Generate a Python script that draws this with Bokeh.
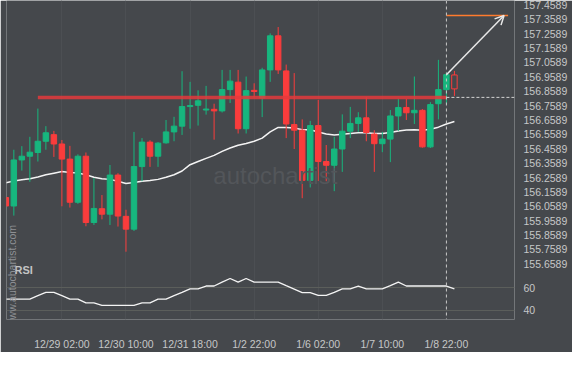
import math
from bokeh.plotting import figure
from bokeh.models import (ColumnDataSource, Range1d, FixedTicker, Span, Label,
                          Arrow, OpenHead)
from bokeh.embed import file_html
from bokeh.resources import INLINE

# ---------------- data ----------------
opens = [156.120, 156.061, 156.381, 156.407, 156.433, 156.511, 156.557, 156.492, 156.387, 156.087,
         156.407, 155.946, 156.042, 156.004, 156.276, 155.989, 155.900, 156.335, 156.505, 156.407,
         156.500, 156.576, 156.616, 156.752, 156.761, 156.728, 156.733, 156.722, 156.870, 156.922,
         156.598, 156.865, 156.811, 157.007, 157.244, 157.000, 156.627, 156.588, 156.239, 156.620,
         156.370, 156.344, 156.457, 156.581, 156.635, 156.674, 156.561, 156.494, 156.526, 156.687,
         156.746, 156.709, 156.726, 156.472, 156.772, 156.870, 156.972]
highs = [156.125, 156.452, 156.477, 156.542, 156.738, 156.616, 156.583, 156.520, 156.479, 156.420,
         156.433, 156.255, 156.137, 156.346, 156.289, 156.035, 156.576, 156.533, 156.518, 156.505,
         156.659, 156.681, 156.998, 156.924, 156.865, 156.896, 156.772, 157.007, 157.007, 157.007,
         156.961, 156.914, 157.022, 157.261, 157.305, 157.044, 156.985, 156.663, 156.653, 156.798,
         156.485, 156.542, 156.698, 156.750, 156.713, 156.816, 156.588, 156.576, 156.728, 156.805,
         156.805, 156.961, 156.735, 156.783, 157.077, 156.989, 157.000]
lows = [156.055, 155.994, 156.307, 156.229, 156.370, 156.452, 156.402, 156.059, 156.050, 156.076,
        155.920, 155.929, 155.968, 155.929, 155.918, 155.743, 155.887, 156.233, 156.333, 156.333,
        156.494, 156.511, 156.555, 156.598, 156.620, 156.696, 156.522, 156.711, 156.777, 156.565,
        156.565, 156.816, 156.679, 156.924, 156.979, 156.533, 156.457, 156.115, 156.190, 156.235,
        156.233, 156.164, 156.298, 156.533, 156.576, 156.511, 156.298, 156.435, 156.366, 156.583,
        156.659, 156.631, 156.466, 156.464, 156.663, 156.772, 156.826]
closes = [156.061, 156.381, 156.407, 156.435, 156.511, 156.570, 156.492, 156.387, 156.087, 156.407,
          155.946, 156.044, 156.004, 156.276, 155.991, 155.900, 156.335, 156.505, 156.407, 156.498,
          156.576, 156.616, 156.752, 156.759, 156.792, 156.735, 156.722, 156.870, 156.929, 156.598,
          156.863, 156.857, 157.007, 157.244, 157.007, 156.631, 156.588, 156.239, 156.620, 156.370,
          156.344, 156.457, 156.581, 156.635, 156.674, 156.572, 156.494, 156.526, 156.687, 156.746,
          156.709, 156.726, 156.472, 156.766, 156.870, 156.974, 156.875]
ma = [156.222, 156.235, 156.244, 156.250, 156.263, 156.278, 156.289, 156.300, 156.294, 156.291,
      156.278, 156.261, 156.250, 156.246, 156.233, 156.218, 156.224, 156.233, 156.239, 156.246,
      156.261, 156.278, 156.304, 156.348, 156.370, 156.392, 156.413, 156.441, 156.464, 156.483,
      156.496, 156.511, 156.533, 156.576, 156.607, 156.607, 156.604, 156.591, 156.591, 156.576,
      156.561, 156.555, 156.559, 156.565, 156.570, 156.570, 156.565, 156.565, 156.572, 156.583,
      156.589, 156.591, 156.588, 156.594, 156.609, 156.631, 156.648]
rsi = [49.8, 49.8, 49.8, 49.8, 52.9, 55.8, 55.8, 52.8, 49.8, 49.8,
       46.4, 46.4, 44.2, 44.2, 44.2, 44.2, 44.2, 46.4, 46.4, 49.8,
       49.8, 52.9, 55.8, 58.9, 58.9, 61.4, 61.4, 64.8, 68.1, 64.8,
       68.1, 64.8, 64.8, 64.8, 64.8, 61.7, 58.7, 55.6, 55.6, 53.1,
       53.1, 55.8, 58.9, 58.9, 61.4, 58.9, 58.9, 58.9, 61.7, 64.8,
       61.4, 61.4, 61.4, 61.4, 61.4, 61.4, 58.9]

x_tick_idx = [7, 15, 23, 31, 39, 47, 55]
x_tick_labels = ["12/29 02:00", "12/30 10:00", "12/31 18:00", "1/2 22:00",
                 "1/6 02:00", "1/7 10:00", "1/8 22:00"]
price_ticks = [155.6589, 155.7589, 155.8589, 155.9589, 156.0589, 156.1589, 156.2589,
               156.3589, 156.4589, 156.5589, 156.6589, 156.7589, 156.8589, 156.9589,
               157.0589, 157.1589, 157.2589, 157.3589, 157.4589]
rsi_ticks = [40, 60]

support_level = 156.816
support_start = 4
signal_idx = 55
target_price = 157.385
target_end = 62.7
arrow_end = 62.2

# ---------------- style ----------------
BG = "#45484c"
GREEN = "#17b67e"
RED = "#fa3c3c"
TXT = "#c6c7c8"
FONT = "Liberation Sans"

X0, X1 = 0.085, 63.5
Y0, Y1 = 155.2718, 157.4896
R0, R1 = 31.667, 315.0


def rsi_pos(r):
    return Y0 + (r - R0) / (R1 - R0) * (Y1 - Y0)


p = figure(width=572, height=352, output_backend="svg", toolbar_location=None,
           x_range=Range1d(X0, X1), y_range=Range1d(Y0, Y1),
           y_axis_location="right",
           background_fill_color=BG, border_fill_color=BG, outline_line_color=None,
           min_border_left=6, min_border_right=58, min_border_top=0, min_border_bottom=26)
p.extra_y_ranges = {"rsi": Range1d(R0, R1)}

# axes
rsi_tick_pos = [rsi_pos(r) for r in rsi_ticks]
overrides = {t: f"{t:.4f}" for t in price_ticks}
for r, t in zip(rsi_ticks, rsi_tick_pos):
    overrides[t] = str(r)
yax = p.yaxis[0]
yax.ticker = FixedTicker(ticks=price_ticks + rsi_tick_pos)
yax.major_label_overrides = overrides
xax = p.xaxis[0]
xax.ticker = FixedTicker(ticks=x_tick_idx)
xax.major_label_overrides = dict(zip(x_tick_idx, x_tick_labels))
for ax in (xax, yax):
    ax.axis_line_color = None
    ax.major_tick_line_color = None
    ax.minor_tick_line_color = None
    ax.major_label_text_color = TXT
    ax.major_label_text_font = FONT
    ax.major_label_text_font_size = "10.5px"
yax.major_label_standoff = 3
xax.major_label_standoff = 12

p.xgrid.ticker = FixedTicker(ticks=x_tick_idx)
p.xgrid.grid_line_color = "#4c4f53"
p.ygrid.ticker = FixedTicker(ticks=rsi_tick_pos)
p.ygrid.grid_line_color = "#5b5e5b"

# watermark
p.add_layout(Label(x=25.9, y=156.276, text="autochartist", text_color="#53565a",
                   text_font=FONT, text_font_size="24px", text_baseline="middle"))

# moving average
idx = list(range(len(opens)))
p.line(idx, ma, line_color="#f4f4f4", line_width=1.5)

# candles
colors = [GREEN if c > o else RED for o, c in zip(opens, closes)]
fills = list(colors)
fills[-1] = BG
src = ColumnDataSource(dict(x=idx, h=highs, l=lows,
                            top=[max(o, c) for o, c in zip(opens, closes)],
                            bottom=[min(o, c) for o, c in zip(opens, closes)],
                            color=colors, fill=fills))
p.segment(x0="x", y0="h", x1="x", y1="l", source=src, line_color="color", line_width=1)
p.vbar(x="x", top="top", bottom="bottom", width=0.68, source=src,
       fill_color="fill", line_color="color", line_width=1)

# support level
p.segment(x0=[support_start], y0=[support_level], x1=[signal_idx], y1=[support_level],
          line_color="#e43a3c", line_width=3.5, line_alpha=0.85)
p.segment(x0=[signal_idx], y0=[support_level], x1=[X1], y1=[support_level],
          line_color="#d4d4d4", line_width=1, line_dash="3 2")
p.add_layout(Span(location=signal_idx, dimension="height", line_color="#c8c8c8",
                  line_width=1, line_dash="3 3"))
# target
p.segment(x0=[signal_idx], y0=[target_price], x1=[target_end], y1=[target_price],
          line_color="#ff7b2e", line_width=1.6)
p.add_layout(Arrow(end=OpenHead(size=9, line_color="#e8e8e8", line_width=1.5),
                   x_start=signal_idx, y_start=closes[signal_idx],
                   x_end=arrow_end, y_end=target_price,
                   line_color="#e8e8e8", line_width=1.5))

# RSI
p.line(idx, rsi, y_range_name="rsi", line_color="#f4f4f4", line_width=1.3)
p.add_layout(Label(x=1.09, y=rsi_pos(76.0), text="RSI", text_color="#c4c4c4",
                   text_font=FONT, text_font_size="11px", text_font_style="bold",
                   text_baseline="middle"))
p.add_layout(Label(x=0.79, y=155.2196, text="www.autochartist.com", angle=math.pi / 2,
                   text_color="#8e9094", text_font=FONT, text_font_size="10.5px",
                   text_align="left", text_baseline="middle"))

open("out.html", "w").write(file_html(p, INLINE))
